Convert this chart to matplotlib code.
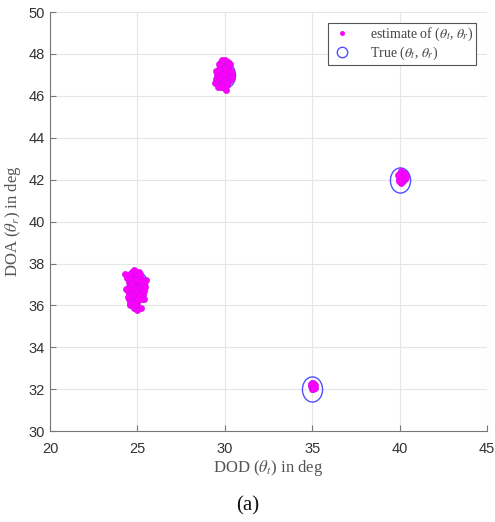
import matplotlib
matplotlib.use("Agg")
import matplotlib.pyplot as plt
from matplotlib.markers import MarkerStyle
from matplotlib.transforms import Affine2D
from matplotlib.lines import Line2D

# True (DOD, DOA) positions
true_dod = [25, 30, 35, 40]
true_doa = [37, 47, 32, 42]

# Estimates (cluster around (25,37))
est_a_x = [24.9, 24.6, 25.1, 24.8, 25.0, 24.7, 25.2, 24.5, 24.9, 25.3, 24.6, 25.0, 24.8, 25.1,
           24.7, 24.9, 25.2, 24.5, 24.8, 25.0, 24.6, 25.1, 24.9, 24.7, 25.3, 24.4, 24.8, 25.0,
           24.6, 25.2, 24.9, 24.7, 25.1, 24.5, 24.8, 25.4, 24.3, 24.9, 25.5, 24.6, 25.0, 24.8,
           24.7, 25.0, 24.9, 25.1, 24.8, 24.6, 25.2, 24.9, 24.5, 24.8, 25.3, 25.0, 24.6, 24.9,
           24.45, 24.55, 25.35, 25.25, 24.45, 25.35, 24.55, 25.15, 24.65, 25.25, 24.35, 25.45,
           24.75, 25.05, 24.55, 25.15, 24.85, 24.65, 25.25, 24.95]
est_a_y = [37.0, 36.8, 37.2, 36.5, 36.9, 37.4, 36.7, 37.1, 36.3, 37.0, 36.4, 37.5, 36.2, 36.6,
           37.6, 37.3, 37.3, 36.6, 36.9, 36.1, 37.2, 36.9, 37.6, 36.4, 36.5, 37.3, 35.9, 35.8,
           36.0, 35.9, 36.7, 37.0, 37.6, 36.9, 37.7, 36.3, 37.5, 36.1, 37.2, 37.5, 36.4, 37.1,
           36.2, 36.6, 37.4, 36.3, 36.8, 36.7, 37.0, 36.0, 36.3, 37.2, 36.8, 37.4, 36.1, 36.5,
           36.7, 37.1, 36.7, 36.3, 36.4, 37.1, 36.9, 36.5, 36.6, 36.9, 36.8, 36.9, 36.5, 36.3,
           37.3, 37.5, 36.0, 37.0, 37.1, 37.2]

# cluster around (30,47)
est_b_x = [29.9, 30.1, 29.7, 30.0, 30.2, 29.8, 30.3, 29.6, 30.0, 29.9, 30.1, 29.7, 30.2, 29.8,
           30.0, 29.9, 30.3, 29.6, 30.1, 29.8, 30.0, 29.7, 30.2, 29.9, 30.4, 29.5, 30.0, 29.8,
           30.1, 29.9, 29.7, 30.2, 29.6, 30.0, 29.8, 30.1, 29.55, 30.35, 29.65, 30.25, 29.55,
           30.35, 29.75, 30.15, 29.65, 30.25, 29.85, 30.05, 29.5, 30.4, 29.75, 30.15, 29.95,
           30.05, 29.85, 29.45, 29.6, 30.3]
est_b_y = [47.0, 47.2, 46.9, 47.5, 46.8, 47.3, 47.1, 46.7, 46.6, 47.6, 47.4, 46.6, 47.3, 46.7,
           47.0, 47.2, 46.9, 47.2, 46.9, 47.6, 46.5, 47.4, 47.6, 46.4, 47.0, 46.8, 47.7, 46.4,
           46.5, 46.8, 47.1, 47.0, 46.6, 47.3, 47.0, 47.1, 47.0, 47.2, 47.3, 46.7, 46.8, 46.8,
           46.5, 47.5, 47.5, 47.4, 47.7, 46.3, 47.2, 46.9, 46.9, 46.6, 47.1, 47.3, 46.4, 46.6,
           46.4, 47.5]

# cluster around (35,32)
est_c_x = [35.0, 35.1, 35.05, 34.95, 35.15, 35.0, 35.1, 35.05, 34.95, 35.15, 35.05, 35.0]
est_c_y = [32.1, 32.2, 32.3, 32.15, 32.05, 32.0, 32.25, 32.1, 32.25, 32.2, 32.0, 32.3]

# cluster around (40,42)
est_d_x = [40.1, 40.0, 40.2, 40.1, 39.95, 40.25, 40.05, 40.15, 40.3, 40.0, 40.2, 40.1, 39.9,
           40.15, 40.05, 40.25, 40.35, 39.95, 40.3]
est_d_y = [42.1, 42.2, 42.0, 42.35, 42.05, 42.15, 41.9, 42.25, 42.05, 42.3, 41.95, 41.85, 42.2,
           42.1, 42.4, 42.3, 42.15, 41.95, 42.25]

est_x = est_a_x + est_b_x + est_c_x + est_d_x
est_y = est_a_y + est_b_y + est_c_y + est_d_y

x_ticks = [20, 25, 30, 35, 40, 45]
y_ticks = [30, 32, 34, 36, 38, 40, 42, 44, 46, 48, 50]

plt.rcParams['mathtext.fontset'] = 'stix'

fig = plt.figure(figsize=(4.95, 5.22), dpi=100)
ax = fig.add_axes([0.101, 0.174, 0.883, 0.803])

ell = MarkerStyle('o', transform=Affine2D().scale(1.0, 1.25))

ax.plot(true_dod, true_doa, linestyle='none', marker=ell, markersize=14.5,
        markerfacecolor='none', markeredgecolor='#5050ff', markeredgewidth=1.0, zorder=2)
ax.plot(est_x, est_y, linestyle='none', marker='o', markersize=4.5,
        markerfacecolor='#ff00ff', markeredgecolor='#d010e8', markeredgewidth=0.4, zorder=3)

ax.set_xlim(20, 45)
ax.set_ylim(30, 50)
ax.set_xticks(x_ticks)
ax.set_yticks(y_ticks)
ax.grid(True, color='#e6e6e6', linewidth=0.8)
ax.set_axisbelow(True)
for s in ['top', 'right']:
    ax.spines[s].set_visible(False)
for s in ['left', 'bottom']:
    ax.spines[s].set_color('#777777')
ax.tick_params(direction='in', length=4, colors='#777777', labelcolor='#333333',
               labelsize=10.5)
ax.tick_params(axis='x', pad=8)
for lab in ax.get_xticklabels() + ax.get_yticklabels():
    lab.set_family('Liberation Sans')

ax.set_xlabel(r'DOD ($\theta_t$) in deg', family='Liberation Serif', fontsize=12,
              color='#555555', labelpad=1)
ax.set_ylabel(r'DOA ($\theta_r$) in deg', family='Liberation Serif', fontsize=12,
              color='#555555', labelpad=4)

handles = [
    Line2D([], [], linestyle='none', marker='o', markersize=2.5, markerfacecolor='#ff00ff',
           markeredgecolor='#ff00ff'),
    Line2D([], [], linestyle='none', marker='o', markersize=7.5, markerfacecolor='none',
           markeredgecolor='#5050ff', markeredgewidth=1.0),
]
leg = ax.legend(handles, [r'estimate of ($\theta_t$, $\theta_r$)', r'True ($\theta_t$, $\theta_r$)'],
                loc='upper right', bbox_to_anchor=(0.975, 0.974), borderaxespad=0,
                prop={'family': 'Liberation Serif', 'size': 10}, fancybox=False,
                edgecolor='#555555', framealpha=1, handletextpad=1.2, borderpad=0.2,
                labelspacing=0.15, handlelength=1.6)
leg.get_frame().set_linewidth(0.8)
for t in leg.get_texts():
    t.set_color('#444444')

fig.text(0.5, 0.031, '(a)', ha='center', va='center', family='Liberation Serif',
         fontsize=15, color='#111111')

fig.savefig('out.png', dpi=100)
